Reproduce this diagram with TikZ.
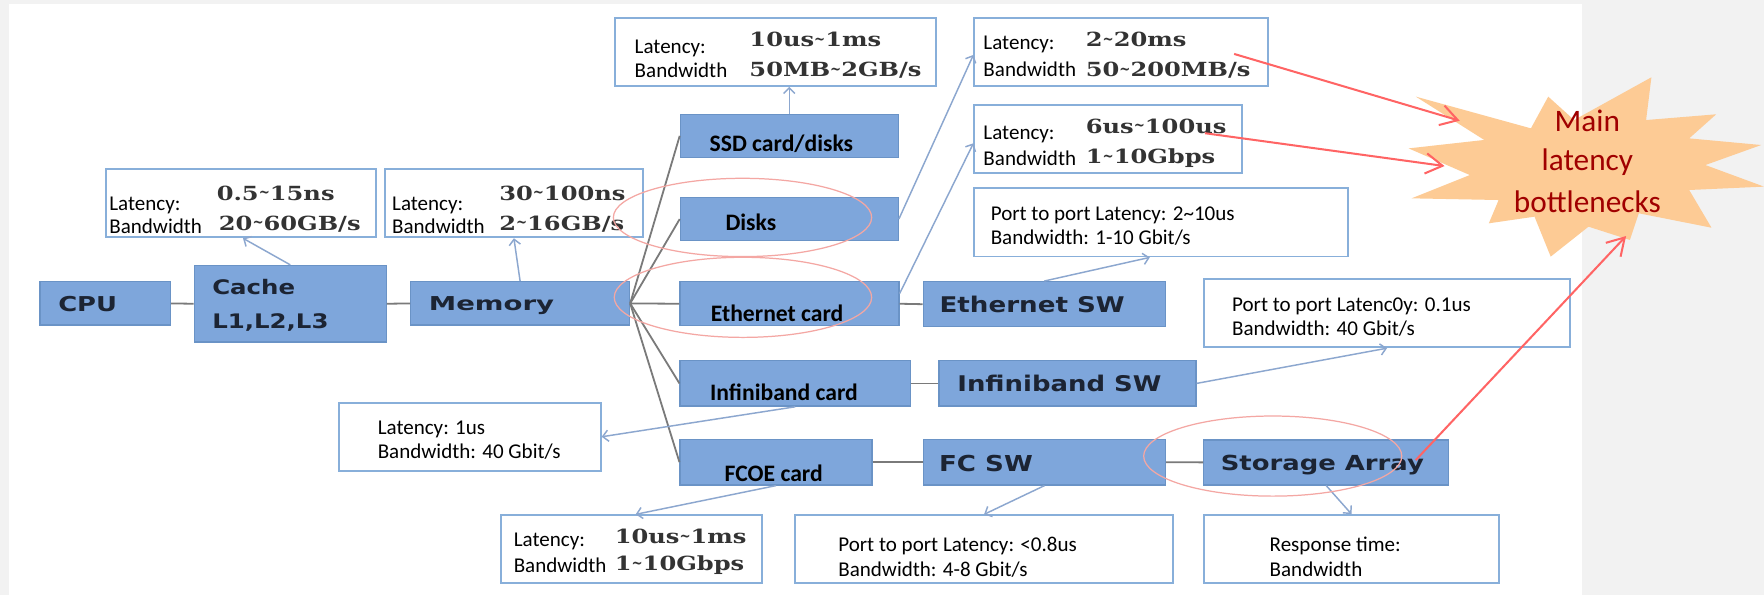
\documentclass[tikz,border=0pt]{standalone}
\usepackage{fontspec}
\setmainfont{Carlito}
\newfontfamily\labelsans{DejaVu Sans}
\newfontfamily\valserif{DejaVu Serif}
\usetikzlibrary{arrows.meta,calc,shapes.geometric}

\definecolor{pagegray}{HTML}{F2F2F2}
\definecolor{boxfill}{HTML}{7EA6DB}
\definecolor{boxline}{HTML}{6A93C6}
\definecolor{infoline}{HTML}{88AFDA}
\definecolor{linkgray}{HTML}{7A7A7A}
\definecolor{linkblue}{HTML}{8CA7CF}
\definecolor{hotred}{HTML}{FF6464}
\definecolor{ringred}{HTML}{F4A7A3}
\definecolor{burstfill}{HTML}{FDCB95}
\definecolor{bursttext}{HTML}{A00000}
\definecolor{navytext}{HTML}{1C2433}
\definecolor{valtext}{HTML}{333333}

% horizontal stretch of a label, baseline kept
\newcommand{\hx}[2]{\scalebox{#1}[1]{#2}}
\newcommand{\setfs}[1]{\fontsize{#1}{#1}\selectfont}
% narrow raised range tilde used in the figures
\newcommand{\rng}{\raisebox{0.12em}{\scalebox{0.55}[0.8]{\textasciitilde}}}

\begin{document}
\begin{tikzpicture}[x=1pt,y=-1pt,
  hw/.style={draw=boxline,fill=boxfill,line width=1.2pt,inner sep=0pt},
  info/.style={draw=infoline,fill=white,line width=1.6pt,inner sep=0pt},
  sz/.style 2 args={minimum width=#1,minimum height=#2},
  txt/.style={anchor=base west,inner sep=0pt,font=\setfs{18.7}},
  val/.style={anchor=base west,inner sep=0pt,text=valtext,font=\valserif\bfseries\setfs{17.3}},
  blab/.style={anchor=base west,inner sep=0pt,text=navytext,font=\labelsans\bfseries},
  clab/.style={anchor=base west,inner sep=0pt,font=\bfseries\setfs{21}},
  link/.style={draw=linkgray,line width=1.6pt},
  feed/.style={draw=linkblue,line width=1.3pt,-{Straight Barb[length=5pt,width=10pt]}},
  hot/.style={draw=hotred,line width=1.8pt,-{Straight Barb[length=15pt,width=18pt]}},
  ring/.style={draw=ringred,line width=1.1pt,ellipse,inner sep=0pt}
]
\useasboundingbox (0,0) rectangle (1568,529);
\fill[pagegray] (0,0) rectangle (1568,529);
\fill[white] (8,4) rectangle (1406,529);

% ---- hardware blocks
\node[hw,sz={116pt}{38.6pt}]   (cpu)   at (93.6,269.7) {};
\node[hw,sz={170.7pt}{68pt}]   (cache) at (258,270) {};
\node[hw,sz={194.5pt}{38.6pt}] (mem)   at (462.3,269.7) {};
\node[hw,sz={193.6pt}{38.3pt}] (ssd)   at (701.6,120.75) {};
\node[hw,sz={193.6pt}{38.6pt}] (disks) at (701.6,194.7) {};
\node[hw,sz={194.5pt}{39pt}]   (eth)   at (701.8,270) {};
\node[hw,sz={215.4pt}{40pt}]   (ethsw) at (928.3,270.4) {};
\node[hw,sz={204.5pt}{40.4pt}] (ib)    at (706.8,340.8) {};
\node[hw,sz={228.3pt}{40.4pt}] (ibsw)  at (948.9,340.8) {};
\node[hw,sz={170.5pt}{40.5pt}] (fcoe)  at (689.8,410.8) {};
\node[hw,sz={215.2pt}{40.5pt}] (fcsw)  at (928.4,410.8) {};
\node[hw,sz={217.5pt}{40pt}]   (stor)  at (1178.8,411) {};

% ---- figure boxes
\node[info,sz={240pt}{61pt}]     (cachelat) at (214,180.5) {};
\node[info,sz={229.5pt}{61pt}]   (memlat)   at (456.8,180.5) {};
\node[info,sz={285.3pt}{60.1pt}] (ssdlat)   at (689,46.35) {};
\node[info,sz={261pt}{60.1pt}]   (disklat)  at (996.5,46.35) {};
\node[info,sz={238pt}{60.2pt}]   (ethlat)   at (985,123.4) {};
\node[info,sz={332pt}{60.6pt}]   (eswlat)   at (1032,197.7) {};
\node[info,sz={232.5pt}{60.5pt}] (iblat)    at (417.75,388.25) {};
\node[info,sz={325.8pt}{60.4pt}] (ibswlat)  at (1232.9,278.5) {};
\node[info,sz={232pt}{60pt}]     (fcoelat)  at (561,488) {};
\node[info,sz={336.5pt}{60pt}]   (fcswlat)  at (874.75,488) {};
\node[info,sz={262.6pt}{60.7pt}] (storlat)  at (1201.3,488.1) {};

% ---- data path
\draw[link] (cpu.east) -- (cache.west);
\draw[link] (cache.east) -- (mem.west);
\draw[link] (mem.east) -- (ssd.west);
\draw[link] (mem.east) -- (disks.west);
\draw[link] (mem.east) -- (eth.west);
\draw[link] (mem.east) -- (ib.west);
\draw[link] (mem.east) -- (fcoe.west);
\draw[link] (eth.east) -- (ethsw.west);
\draw[link] (ib.east) -- (ibsw.west);
\draw[link] (fcoe.east) -- (fcsw.west);
\draw[link] (fcsw.east) -- (stor.west);

% ---- pointers to the figures
\draw[feed] (cache.north) -- ($(cachelat.south)+(2,0)$);
\draw[feed] (mem.north) -- (memlat.south);
\draw[feed] (ssd.north) -- (ssd.north |- ssdlat.south);
\draw[feed] (disks.east) -- ($(disklat.west)+(0,2.5)$);
\draw[feed] ($(eth.east)+(0,-9)$) -- ($(ethlat.west)+(0,4)$);
\draw[feed] (ethsw.north) -- ($(eswlat.south)+(-10,0)$);
\draw[feed] (ibsw.east) -- (ibswlat.south);
\draw[feed] (ib.south) -- (iblat.east);
\draw[feed] (fcoe.south) -- ($(fcoelat.north)+(4,0)$);
\draw[feed] (fcsw.south) -- (fcswlat.north);
\draw[feed] (stor.south) -- (storlat.north);

% ---- block labels
\node[blab] (cpu-t)   at (51.6,277)   {\setfs{18.2}\hx{1.26}{CPU}};
\node[blab] (cache-t) at (188.5,262)  {\setfs{17.8}\hx{1.22}{Cache}};
\node[blab] (lvl-t)   at (188.5,292)  {\setfs{17.8}\hx{1.22}{L1,L2,L3}};
\node[blab] (mem-t)   at (381,276)    {\setfs{17}\hx{1.44}{Memory}};
\node[blab] (ethsw-t) at (835,277.6)  {\setfs{19.2}\hx{1.21}{Ethernet SW}};
\node[blab] (ibsw-t)  at (850.8,348)  {\setfs{19.2}\hx{1.2}{Infiniband SW}};
\node[blab] (fcsw-t)  at (834.6,419.3){\setfs{19.5}\hx{1.19}{FC SW}};
\node[blab] (stor-t)  at (1085,417.8) {\setfs{18.4}\hx{1.25}{Storage Array}};

\node[clab] (ssd-t)   at (630.6,134.8) {SSD card/disks};
\node[clab] (disks-t) at (644.7,205.3) {Disks};
\node[clab] (eth-t)   at (631.7,286)   {Ethernet card};
\node[clab] (ib-t)    at (631,356.4)   {Infiniband card};
\node[clab] (fcoe-t)  at (644,428)     {FCOE card};

% ---- figures
\node[txt] (cl1) at (97,187)     {Latency:};
\node[txt] (cl2) at (97,207.4)   {Bandwidth};
\node[val] (cv1) at (192.5,177.8){\hx{1.24}{0.5\rng15ns}};
\node[val] (cv2) at (194.4,204.5){\hx{1.24}{20\rng60GB/s}};

\node[txt] (ml1) at (348.4,187)  {Latency:};
\node[txt] (ml2) at (348.4,207.4){Bandwidth};
\node[val] (mv1) at (443.6,177.8){\hx{1.24}{30\rng100ns}};
\node[val] (mv2) at (443.6,204.5){\hx{1.24}{2\rng16GB/s}};

\node[txt] (sl1) at (564,47.4)   {Latency:};
\node[txt] (sl2) at (564,68.7)   {Bandwidth};
\node[val] (sv1) at (666,41.5)   {\hx{1.24}{10us\rng1ms}};
\node[val] (sv2) at (666,68.1)   {\hx{1.24}{50MB\rng2GB/s}};

\node[txt] (dl1) at (874,44.4)   {Latency:};
\node[txt] (dl2) at (874,67.6)   {Bandwidth};
\node[val] (dv1) at (965,41.5)   {\hx{1.24}{2\rng20ms}};
\node[val] (dv2) at (965,68)     {\hx{1.24}{50\rng200MB/s}};

\node[txt] (el1) at (874,124.4)  {Latency:};
\node[txt] (el2) at (874,146.7)  {Bandwidth};
\node[val] (ev1) at (965,118.5)  {\hx{1.24}{6us\rng100us}};
\node[val] (ev2) at (965,145.2)  {\hx{1.24}{1\rng10Gbps}};

\node[txt] (wl1) at (880.5,195.6) {Port to port Latency: 2\textasciitilde10us};
\node[txt] (wl2) at (880.5,217.2) {Bandwidth: 1-10 Gbit/s};

\node[txt] (bl1) at (1095,277)    {Port to port Latenc0y: 0.1us};
\node[txt] (bl2) at (1095,297.8)  {Bandwidth: 40 Gbit/s};

\node[txt] (il1) at (335.6,385.8) {Latency: 1us};
\node[txt] (il2) at (335.6,407.4) {Bandwidth: 40 Gbit/s};

\node[txt] (fl1) at (456.5,486)  {Latency:};
\node[txt] (fl2) at (456.5,509)  {Bandwidth};
\node[val] (fv1) at (546.3,483)  {\hx{1.24}{10us\rng1ms}};
\node[val] (fv2) at (546.3,507)  {\hx{1.24}{1\rng10Gbps}};

\node[txt] (sw1) at (745,490.4)  {Port to port Latency: <0.8us};
\node[txt] (sw2) at (745,512)    {Bandwidth: 4-8 Gbit/s};

\node[txt] (rt1) at (1128.4,490.4) {Response time:};
\node[txt] (rt2) at (1128.4,512.6) {Bandwidth};

% ---- highlighted spots
\node[ring,sz={229.6pt}{69.6pt}] (ringdisks) at (660,193.3) {};
\node[ring,sz={228.8pt}{71.2pt}] (ringeth)   at (660.4,264.3) {};
\node[ring,sz={229.4pt}{71.2pt}] (ringstor)  at (1131.3,405.4) {};

% ---- bottleneck burst
\fill[burstfill] (1467.9,68.7) -- (1463.2,106.7) -- (1525.5,101.6) -- (1501.5,123)
  -- (1565.5,128.9) -- (1515.9,146.7) -- (1568,165.9) -- (1501.5,168.9)
  -- (1521.3,202.4) -- (1456.7,189.6) -- (1448.8,213.3) -- (1412,201.5)
  -- (1378.4,228.1) -- (1364,192.6) -- (1323.4,198.5) -- (1332.1,177.8)
  -- (1254.7,176.3) -- (1306.5,155.6) -- (1252.1,131.9) -- (1319.3,124.4)
  -- (1258.5,85.9) -- (1360.8,114.1) -- (1376.2,85.9) -- (1399.2,106.7) -- cycle;
\node[anchor=base,inner sep=0pt,text=bursttext,font=\setfs{27.8}] (bt1) at (1411,117) {Main};
\node[anchor=base,inner sep=0pt,text=bursttext,font=\setfs{27.8}] (bt2) at (1411,152) {latency};
\node[anchor=base,inner sep=0pt,text=bursttext,font=\setfs{27.8}] (bt3) at (1411,189) {bottlenecks};

\coordinate (tipA) at (1297.5,107.3);
\coordinate (tipB) at (1284,147.6);
\coordinate (tipC) at (1445.4,209.8);
\draw[hot] ($(disklat.center)+(100.5,1.6)$) -- (tipA);
\draw[hot] ($(ethlat.center)+(86,-5)$) -- (tipB);
\draw[hot] ($(stor.center)+(79.6,-2)$) -- (tipC);
\end{tikzpicture}
\end{document}
